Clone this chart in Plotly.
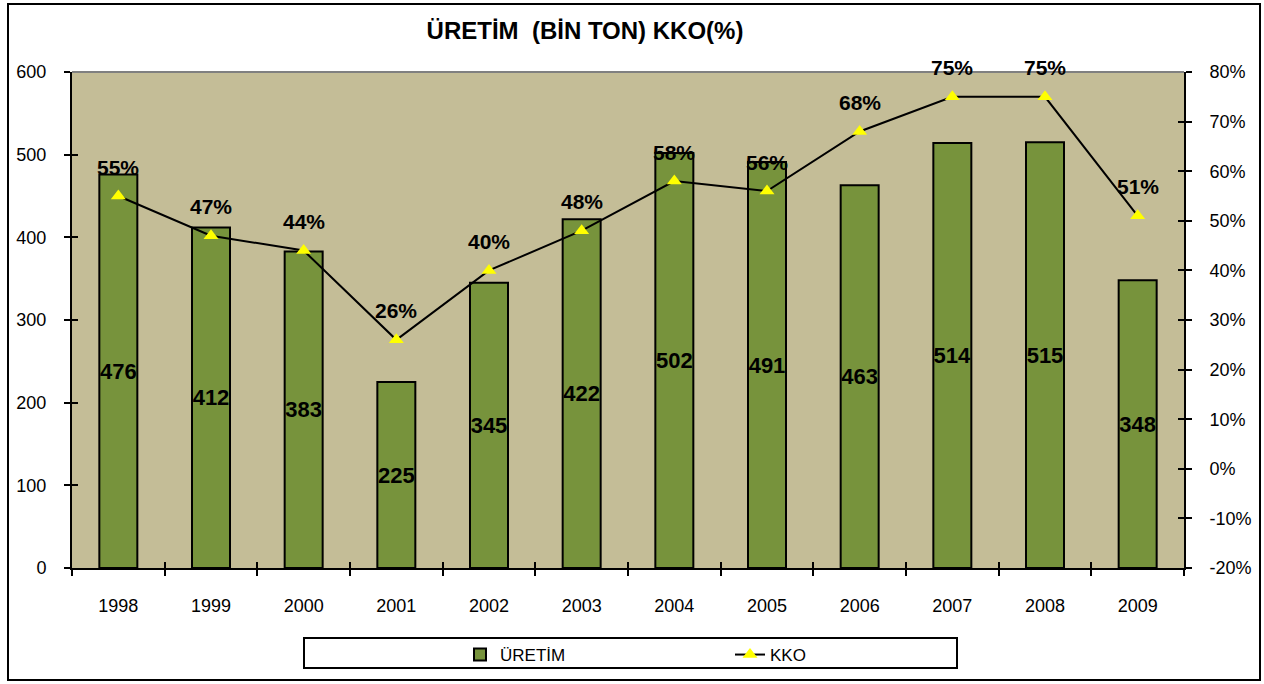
import plotly.graph_objects as go

years = ["1998", "1999", "2000", "2001", "2002", "2003", "2004", "2005", "2006", "2007", "2008", "2009"]
uretim = [476, 412, 383, 225, 345, 422, 502, 491, 463, 514, 515, 348]
kko = [0.55, 0.47, 0.44, 0.26, 0.40, 0.48, 0.58, 0.56, 0.68, 0.75, 0.75, 0.51]
left_ticks = [0, 100, 200, 300, 400, 500, 600]
right_ticks = [-0.2, -0.1, 0.0, 0.1, 0.2, 0.3, 0.4, 0.5, 0.6, 0.7, 0.8]
right_labels = ["-20%", "-10%", "0%", "10%", "20%", "30%", "40%", "50%", "60%", "70%", "80%"]

W, H = 1264, 684
L, R, T, B = 72, 80, 72, 116
pw, ph = W - L - R, H - T - B

def px_x(x):
    return (x - L) / pw

def px_y(y):
    return (H - B - y) / ph

FONT = "Liberation Sans, Arial, sans-serif"
xrange_ = [-0.5, len(years) - 0.5]

fig = go.Figure()
fig.add_trace(go.Bar(
    x=years, y=uretim, name="ÜRETİM",
    marker=dict(color="#77933C", line=dict(color="black", width=2)),
    text=[str(v) for v in uretim], textposition="inside", insidetextanchor="middle",
    textfont=dict(family=FONT, size=22, color="black", weight="bold"),
    textangle=0, constraintext="none", hoverinfo="skip",
))
fig.add_trace(go.Scatter(
    x=years, y=kko, name="KKO", yaxis="y2", mode="lines+markers",
    line=dict(color="black", width=2),
    marker=dict(symbol="triangle-up", size=13, color="#FFFF00", line=dict(width=0)),
    cliponaxis=False,
))
# helper invisible traces so that the crossing (inside) tick axes get drawn
fig.add_trace(go.Scatter(x=years, y=uretim, xaxis="x2", yaxis="y3", mode="none",
                         showlegend=False, hoverinfo="skip"))
fig.add_trace(go.Scatter(x=years, y=kko, xaxis="x2", yaxis="y4", mode="none",
                         showlegend=False, hoverinfo="skip"))

# percentage labels (category axis: annotation x is the category index)
annotations = []
for i, v in enumerate(kko):
    annotations.append(dict(x=i, y=v, xref="x", yref="y2", text=f"<b>{round(v*100)}%</b>",
                            showarrow=False, yshift=29, yanchor="middle",
                            font=dict(family=FONT, size=21, color="black")))

tick_common = dict(ticklen=6, tickwidth=2, tickcolor="black")

fig.update_layout(
    width=W, height=H,
    margin=dict(l=L, r=R, t=T, b=B, autoexpand=False),
    paper_bgcolor="white", plot_bgcolor="#C4BD97",
    font=dict(family=FONT, size=18, color="black"),
    bargap=0.59,
    title=dict(text="<b>ÜRETİM  (BİN TON) KKO(%)</b>", font=dict(size=24, family=FONT, color="black"),
               x=px_x(585), xref="paper", xanchor="center", y=1 - 31 / H, yref="container", yanchor="middle"),
    xaxis=dict(type="category", categoryarray=years, range=xrange_, tickson="boundaries",
               ticks="outside", **tick_common,
               showline=True, linecolor="black", linewidth=2, ticklabelstandoff=20,
               showgrid=False, tickfont=dict(size=18)),
    xaxis2=dict(type="category", categoryarray=years, range=xrange_, overlaying="x", anchor="y",
                side="bottom", tickson="boundaries", ticks="inside", **tick_common,
                showticklabels=False, showline=False, showgrid=False),
    yaxis=dict(range=[0, 600], tickvals=left_ticks, ticks="outside", **tick_common,
               showline=True, linecolor="black", linewidth=2, showgrid=False, zeroline=False,
               ticklabelstandoff=14, tickfont=dict(size=18)),
    yaxis3=dict(range=[0, 600], tickvals=left_ticks, overlaying="y", side="left", anchor="x",
                ticks="inside", **tick_common, showticklabels=False, showline=False,
                showgrid=False, zeroline=False),
    yaxis2=dict(range=[-0.2, 0.8], tickvals=right_ticks, ticktext=right_labels, overlaying="y",
                side="right", anchor="x", ticks="outside", **tick_common,
                showline=True, linecolor="black", linewidth=2, showgrid=False, zeroline=False,
                ticklabelstandoff=14, tickfont=dict(size=18)),
    yaxis4=dict(range=[-0.2, 0.8], tickvals=right_ticks, overlaying="y", side="right", anchor="x",
                ticks="inside", **tick_common, showticklabels=False, showline=False,
                showgrid=False, zeroline=False),
    showlegend=True,
    legend=dict(orientation="h", x=px_x(460), xanchor="left", y=px_y(655), yanchor="middle",
                entrywidth=225, entrywidthmode="pixels", bgcolor="rgba(0,0,0,0)",
                font=dict(size=17), itemwidth=30),
    annotations=annotations,
    shapes=[
        dict(type="rect", xref="paper", yref="paper", x0=px_x(8), x1=px_x(1260), y0=px_y(680), y1=px_y(4),
             line=dict(color="black", width=2), layer="below"),
        dict(type="rect", xref="paper", yref="paper", x0=px_x(304), x1=px_x(957), y0=px_y(668), y1=px_y(638),
             line=dict(color="black", width=2), layer="below"),
        dict(type="line", xref="paper", yref="paper", x0=0, x1=1, y0=1, y1=1,
             line=dict(color="#808080", width=2)),
    ],
)

fig.write_html("out.html", config={"displayModeBar": False},
               post_script="document.body.style.margin='0px';document.body.style.overflow='hidden';")
